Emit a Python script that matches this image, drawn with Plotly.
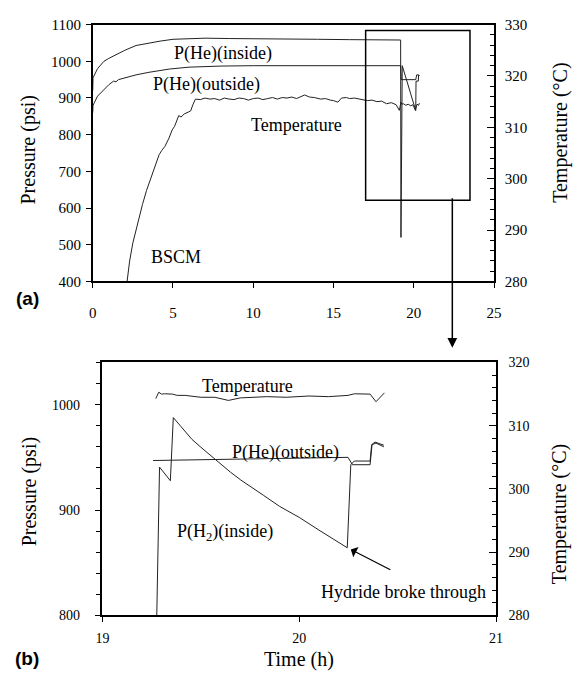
import plotly.graph_objects as go

W, H = 580, 683
SERIF = "Liberation Serif, Times New Roman, serif"
LC = "#222222"

# ---------------- panel (a) data ----------------
a_t_he_in = [0, 0.02, 0.3, 0.7, 1.0, 1.5, 2.0, 2.7, 3.5, 4.2, 5.0, 6.0, 7.0, 8.5, 10, 12, 14, 16, 18, 19.18, 19.2]
a_p_he_in = [920, 955, 980, 1000, 1008, 1020, 1030, 1043, 1050, 1055, 1060, 1062, 1063, 1062, 1062, 1061, 1060, 1059, 1058, 1058, 520]

a_t_he_out = [0, 0.02, 0.3, 0.7, 1.0, 1.3, 1.45, 1.6, 2.0, 2.7, 3.5, 4.8, 6.0, 6.8, 8, 10, 14, 18, 19.18, 19.22, 20.12, 20.18, 20.3]
a_p_he_out = [860, 880, 905, 924, 936, 946, 944, 950, 955, 963, 970, 979, 984, 986, 987, 988, 988, 988, 988, 950, 950, 963, 963]

a_t_h2 = [19.2, 19.24, 19.26, 19.28, 20.12, 20.14, 20.28, 20.3, 20.35]
a_p_h2 = [520, 940, 928, 988, 866, 946, 946, 963, 960]

a_t_temp = [2.14, 2.3, 2.5, 2.7, 2.9, 3.1, 3.35, 3.6, 3.9, 4.14,
            4.3, 4.5, 4.75, 4.95, 5.1, 5.36, 5.5, 5.7, 5.97, 6.1,
            6.25, 6.4, 6.7, 7.0, 7.3, 7.6, 7.9, 8.2, 8.5, 8.8,
            9.1, 9.4, 9.7, 10.0, 10.3, 10.6, 10.9, 11.2, 11.5, 11.8,
            12.1, 12.4, 12.7, 13.0, 13.2, 13.5, 13.8, 14.2, 14.5, 14.8,
            15.0, 15.27, 15.5, 15.8, 16.0, 16.3, 16.6, 16.9, 17.1, 17.4,
            17.7, 18.0, 18.3, 18.6, 18.9, 19.1, 19.2, 19.25, 19.35, 19.5,
            19.65, 19.8, 19.95, 20.1, 20.2, 20.3, 20.35]
a_temp = [280, 284, 287.5, 290.1, 292.5, 295, 297.7, 299.8, 302.5, 304.7,
          305.5, 306.3, 307.9, 309.5, 310.2, 312.3, 312.0, 312.6, 313.0, 313.2,
          314.5, 315.5, 315.4, 315.7, 315.5, 315.6, 315.3, 315.7, 315.5, 315.4,
          315.7, 315.6, 315.3, 315.6, 315.7, 315.4, 315.6, 315.8, 315.5, 315.8,
          315.7, 315.9, 315.6, 316.0, 316.3, 315.9, 315.8, 315.5, 315.6, 315.3,
          315.2, 314.9, 315.7, 315.8, 315.6, 315.7, 315.5, 315.4, 315.2, 315.3,
          315.0, 315.1, 314.6, 314.8, 314.4, 313.3, 314.9, 314.5, 314.6, 314.3,
          314.5, 314.2, 314.4, 313.3, 314.5, 314.3, 314.7]

# ---------------- panel (b) data ----------------
b_t_temp = [19.271, 19.286, 19.30, 19.315, 19.356, 19.38, 19.42, 19.46, 19.50, 19.571,
            19.60, 19.64, 19.70, 19.75, 19.835, 19.934, 20.0, 20.05, 20.149, 20.248,
            20.28, 20.36, 20.39, 20.433]
b_temp = [314.3, 315.3, 315.0, 315.05, 315.0, 314.8, 314.8, 314.6, 314.5, 314.5,
          314.3, 314.0, 314.4, 314.5, 314.6, 314.5, 314.6, 314.7, 314.6, 314.8,
          315.05, 315.0, 313.8, 315.2]

b_t_he = [19.257, 19.4, 19.6, 19.8, 20.0, 20.1, 20.2, 20.248, 20.27, 20.36, 20.37, 20.39, 20.43]
b_p_he = [947, 947.5, 948, 948.5, 949, 949.5, 950, 950, 943, 943, 962, 963.5, 960]

b_t_h2 = [19.274, 19.29, 19.345, 19.36, 19.40, 19.455, 19.50, 19.571, 19.65, 19.703, 19.76,
          19.818, 19.90, 20.0, 20.1, 20.2, 20.244,
          20.262, 20.28, 20.36, 20.368, 20.385, 20.43]
b_p_h2 = [780, 940.7, 927.8, 987.7, 979, 967, 959.6, 948, 936, 928.5, 921,
          914, 903.5, 893, 881, 869, 864.2,
          943, 946.5, 946.5, 962, 964.5, 961.5]

# ---------------- figure ----------------
fig = go.Figure()

def line(x, y, xa, ya):
    fig.add_trace(go.Scatter(x=x, y=y, xaxis=xa, yaxis=ya, mode="lines",
                             line=dict(color=LC, width=1), showlegend=False,
                             hoverinfo="skip"))

line(a_t_he_in, a_p_he_in, "x", "y")
line(a_t_he_out, a_p_he_out, "x", "y")
line(a_t_h2, a_p_h2, "x", "y")
line(a_t_temp, a_temp, "x", "y2")

line(b_t_temp, b_temp, "x2", "y4")
line(b_t_he, b_p_he, "x2", "y3")
line(b_t_h2, b_p_h2, "x2", "y3")

tickfont_a = dict(family=SERIF, size=15, color="black")
tickfont_b = dict(family=SERIF, size=14, color="black")
axline = dict(showline=True, linecolor="black", linewidth=1.5, showgrid=False, zeroline=False)

fig.update_layout(
    width=W, height=H,
    margin=dict(l=0, r=0, t=0, b=0),
    paper_bgcolor="white", plot_bgcolor="white",
    xaxis=dict(domain=[88 / W, 500 / W], anchor="y", range=[0, 25], dtick=5,
               ticks="outside", ticklen=5, tickcolor="black", mirror=True,
               tickfont=tickfont_a, ticklabelstandoff=12, **axline),
    yaxis=dict(domain=[1 - 280 / H, 1 - 17 / H], anchor="x", range=[400, 1100], dtick=100,
               ticks="outside", ticklen=5, tickcolor="black",
               tickfont=tickfont_a, ticklabelstandoff=2, **axline),
    yaxis2=dict(overlaying="y", side="right", anchor="x", range=[280, 330], dtick=10,
                ticks="inside", ticklen=7, tickcolor="black",
                minor=dict(dtick=2, ticks="inside", ticklen=4, tickcolor="black"),
                tickfont=tickfont_a, ticklabelstandoff=6, **axline),
    xaxis2=dict(domain=[98 / W, 502 / W], anchor="y3", range=[19, 21], dtick=1,
                ticks="outside", ticklen=5, tickcolor="black", mirror=True,
                tickfont=tickfont_b, ticklabelstandoff=4, **axline),
    yaxis3=dict(domain=[1 - 622 / H, 1 - 363 / H], anchor="x2", range=[800, 1040],
                tickvals=[800, 900, 1000], ticks="outside", ticklen=6, tickcolor="black",
                minor=dict(tick0=800, dtick=20, ticks="outside", ticklen=5, tickcolor="black"),
                tickfont=tickfont_b, ticklabelstandoff=12, **axline),
    yaxis4=dict(overlaying="y3", side="right", anchor="x2", range=[280, 320], dtick=10,
                ticks="inside", ticklen=7, tickcolor="black",
                minor=dict(dtick=2, ticks="inside", ticklen=4, tickcolor="black"),
                tickfont=tickfont_b, ticklabelstandoff=8, **axline),
)

# zoom rectangle in panel (a)
fig.add_shape(type="rect", xref="x", yref="y", x0=17, x1=23.5, y0=621, y1=1084,
              line=dict(color="black", width=1.5))

ann = []
def txt(x, y, s, xref, yref, size=18, **kw):
    ann.append(dict(x=x, y=y, xref=xref, yref=yref, text=s, showarrow=False,
                    xanchor="center", yanchor="middle",
                    font=dict(family=SERIF, size=size, color="black"), **kw))

# arrow from rectangle to panel (b)
ann.append(dict(x=22.4, y=1 - 348 / H, xref="x", yref="paper", ax=0, ay=-151,
                text="", showarrow=True, arrowhead=2, arrowsize=1.3, arrowwidth=1.5,
                arrowcolor="black"))

# panel (a) labels
txt(8.1, 1020, "P(He)(inside)", "x", "y")
txt(7.06, 938, "P(He)(outside)", "x", "y")
txt(12.7, 826, "Temperature", "x", "y")
txt(5.2, 467, "BSCM", "x", "y")

# panel (b) labels
txt(19.736, 1017.9, "Temperature", "x2", "y3")
txt(19.93, 954.6, "P(He)(outside)", "x2", "y3")
txt(19.624, 879, "P(H<sub>2</sub>)(inside)", "x2", "y3")
txt(20.53, 822, "Hydride broke through", "x2", "y3")
ann.append(dict(x=20.262, y=862.5, xref="x2", yref="y3", ax=41, ay=21, text="",
                showarrow=True, arrowhead=1, arrowsize=1.6, arrowwidth=1.2,
                arrowcolor="black"))

# axis titles
txt(22.5 / W, 1 - 145 / H, "Pressure (psi)", "paper", "paper", size=20, textangle=-90)
txt(567.5 / W, 1 - 128 / H, "Temperature (°C)", "paper", "paper", size=20, textangle=-90)
txt(22.5 / W, 1 - 495 / H, "Pressure (psi)", "paper", "paper", size=20, textangle=-90)
txt(568 / W, 1 - 518 / H, "Temperature (°C)", "paper", "paper", size=20, textangle=-90)
txt(300 / W, 1 - 667 / H, "Time (h)", "paper", "paper", size=20)

# panel letters
for lab, yy in [("(a)", 297), ("(b)", 666)]:
    ann.append(dict(x=21 / W, y=1 - yy / H, xref="paper", yref="paper", text="<b>%s</b>" % lab,
                    xanchor="center", yanchor="middle", showarrow=False,
                    font=dict(family="Liberation Sans, Arial, sans-serif", size=19, color="black")))

fig.update_layout(annotations=ann)
fig.write_html("out.html")
